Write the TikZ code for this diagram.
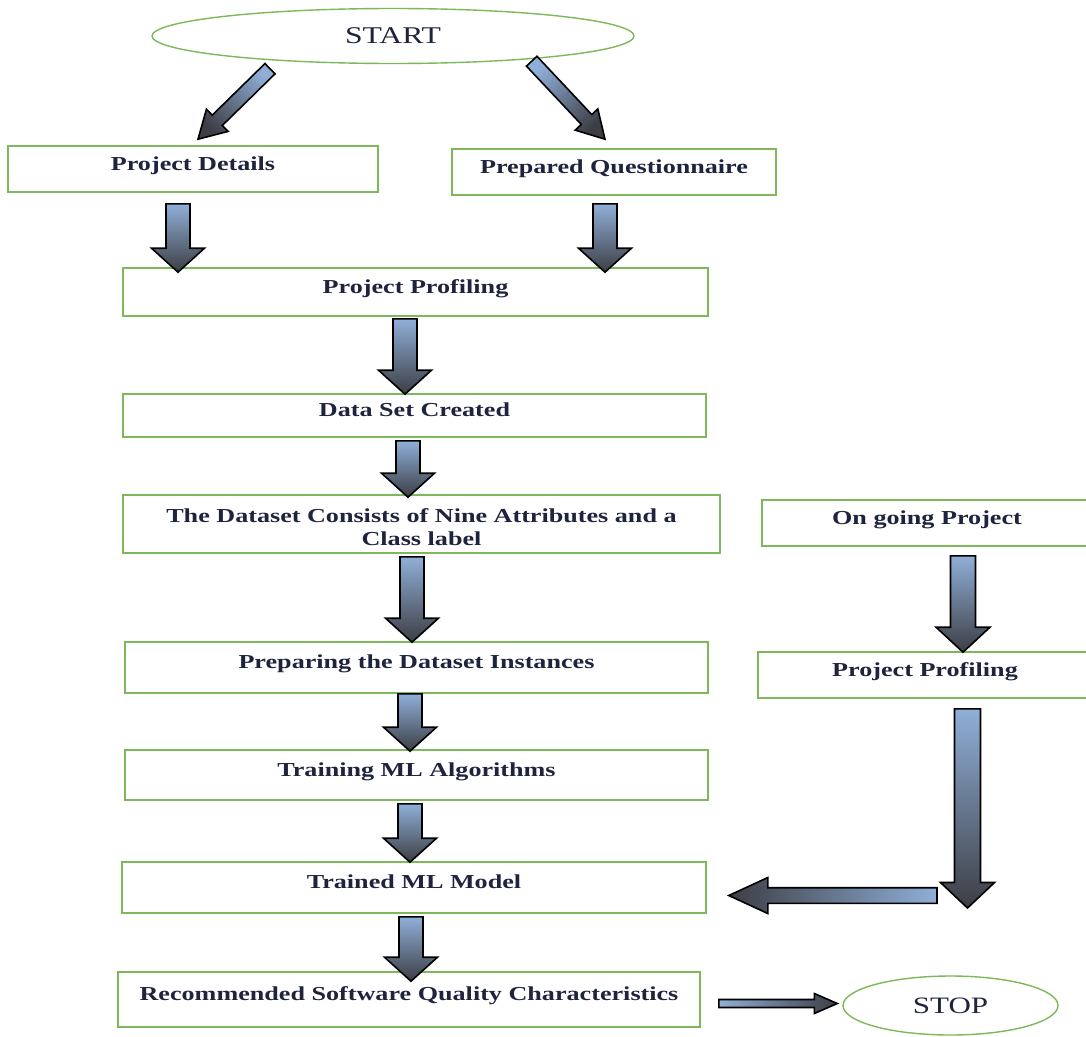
\documentclass[tikz,border=0pt]{standalone}
\usepackage{fontspec}
\setmainfont[FakeStretch=1.32]{Liberation Serif}
\usetikzlibrary{shapes.geometric,calc}

\definecolor{boxgreen}{RGB}{125,185,90}
\definecolor{txt}{RGB}{30,36,62}
\definecolor{arlight}{RGB}{144,175,216}
\definecolor{ardark}{RGB}{60,62,68}

\tikzset{
  box/.style={draw=boxgreen, line width=1.6pt, rectangle, inner sep=0pt,
    text=txt, font=\bfseries\fontsize{19.8}{23}\selectfont,
    text height=0.7em, text depth=0.5em},
  twoline/.style={draw=boxgreen, line width=1.6pt, rectangle, inner sep=0pt,
    text=txt, font=\bfseries\fontsize{19.8}{23.5}\selectfont, align=center},
  terminal/.style={draw=boxgreen, line width=1.4pt, ellipse, inner sep=0pt,
    text=txt, font=\fontsize{24}{28}\selectfont},
  arrowbody/.style={draw=black, line width=1.6pt, line join=miter},
  downshade/.style={top color=arlight, bottom color=ardark},
}

% block arrow: [shading], tail, tip, shaft half width, head half width, head length
\newcommand\blockarrow[6][]{%
  \coordinate (ba-n) at ($(#3)!#6!(#2)$);
  \shade[arrowbody,#1]
    ($(#2)!#4!90:(#3)$) -- ($(ba-n)!#4!90:(#3)$) -- ($(ba-n)!#5!90:(#3)$) -- (#3)
    -- ($(ba-n)!#5!-90:(#3)$) -- ($(ba-n)!#4!-90:(#3)$) -- ($(#2)!#4!-90:(#3)$) -- cycle;}

\begin{document}
\begin{tikzpicture}[x=1pt, y={(0pt,-1pt)}]
\useasboundingbox (0,0) rectangle (1086,1036);
\clip (0,0) rectangle (1086,1036);
\fill[white] (0,0) rectangle (1086,1036);

% terminals
\node[terminal, minimum width=482pt, minimum height=55pt] (start) at (393,36) {START};
\node[terminal, minimum width=215pt, minimum height=59pt, font=\fontsize{23.5}{28}\selectfont] (stop) at (950.5,1005.5) {STOP};

% process boxes
\node[box, minimum width=370pt, minimum height=46pt] (pd)   at (193,169)     {Project Details};
\node[box, minimum width=324pt, minimum height=46pt] (pq)   at (614,172)     {Prepared Questionnaire};
\node[box, minimum width=585pt, minimum height=48pt] (pp)   at (415.5,292)   {Project Profiling};
\node[box, minimum width=583pt, minimum height=43pt] (dsc)  at (414.5,415.5) {Data Set Created};
\node[twoline, minimum width=597pt, minimum height=58pt] (dca) at (421.5,524) {\rule{0pt}{20pt}The Dataset Consists of Nine Attributes and a\\Class label};
\node[box, minimum width=330pt, minimum height=46pt] (ogp)  at (927,523)     {On going Project};
\node[box, minimum width=583pt, minimum height=51pt] (prep) at (416.5,667.5) {Preparing the Dataset Instances};
\node[box, minimum width=334pt, minimum height=46pt] (ppr)  at (925,675)     {Project Profiling};
\node[box, minimum width=583pt, minimum height=50pt] (tml)  at (416.5,775)   {Training ML Algorithms};
\node[box, minimum width=584pt, minimum height=51pt] (trm)  at (414,887.5)   {Trained ML Model};
\node[box, minimum width=582pt, minimum height=55pt] (rsq)  at (409,999.5)   {Recommended Software Quality Characteristics};

% arrow end points
\coordinate (a1t) at ($(start.south)+(-123,4.5)$);
\coordinate (a1h) at ($(pd.north)+(5,-6)$);
\coordinate (a2t) at ($(start.south)+(138.7,-3)$);
\coordinate (a2h) at ($(pq.north)+(-9,-9)$);
\coordinate (a3t) at ($(pd.south)+(-15,11)$);
\coordinate (a3h) at ($(pp.north)+(-237.5,5)$);
\coordinate (a4t) at ($(pq.south)+(-9,8)$);
\coordinate (a4h) at ($(pp.north)+(189.5,5)$);
\coordinate (a5t) at ($(pp.south)+(-10.5,2)$);
\coordinate (a5h) at ($(dsc.north)+(-9.5,1)$);
\coordinate (a6t) at ($(dsc.south)+(-6.5,3)$);
\coordinate (a6h) at ($(dca.north)+(-13.5,3)$);
\coordinate (a7t) at ($(dca.south)+(-9.5,3)$);
\coordinate (a7h) at ($(prep.north)+(-4.5,1)$);
\coordinate (a8t) at ($(prep.south)+(-6.5,0)$);
\coordinate (a8h) at ($(tml.north)+(-6.5,2)$);
\coordinate (a9t) at ($(tml.south)+(-6.5,3)$);
\coordinate (a9h) at ($(trm.north)+(-4,1)$);
\coordinate (a10t) at ($(trm.south)+(-3,3)$);
\coordinate (a10h) at ($(rsq.north)+(2,10)$);
\coordinate (a11t) at ($(ogp.south)+(36,9)$);
\coordinate (a11h) at ($(ppr.north)+(38,1)$);
\coordinate (a12t) at ($(ppr.south)+(42.5,10)$);
\coordinate (bend) at (967.5,908);
\coordinate (turn) at (937,895.5);
\coordinate (a13h) at ($(trm.east)+(22,8)$);
\coordinate (a14t) at ($(rsq.east)+(18,4)$);
\coordinate (a14h) at ($(stop.west)+(-5,-2)$);

% diagonal arrows from START
\blockarrow[top color=arlight, bottom color=ardark, shading angle=-45]{a1t}{a1h}{7.2pt}{15.5pt}{27pt}
\blockarrow[top color=arlight, bottom color=ardark, shading angle=45]{a2t}{a2h}{7.2pt}{15.5pt}{27pt}

% main column
\blockarrow[downshade]{a3t}{a3h}{12pt}{26.5pt}{24pt}
\blockarrow[downshade]{a4t}{a4h}{12pt}{26.5pt}{24pt}
\blockarrow[downshade]{a5t}{a5h}{12pt}{26.5pt}{24pt}
\blockarrow[downshade]{a6t}{a6h}{12pt}{26.5pt}{24pt}
\blockarrow[downshade]{a7t}{a7h}{12pt}{26.5pt}{24pt}
\blockarrow[downshade]{a8t}{a8h}{12pt}{26.5pt}{24pt}
\blockarrow[downshade]{a9t}{a9h}{12pt}{26.5pt}{24pt}
\blockarrow[downshade]{a10t}{a10h}{12pt}{26.5pt}{24pt}

% ongoing project branch
\blockarrow[downshade]{a11t}{a11h}{12.5pt}{27pt}{25pt}
\blockarrow[downshade]{a12t}{bend}{13pt}{27pt}{25.5pt}
\blockarrow[left color=ardark, right color=arlight]{turn}{a13h}{7.8pt}{18pt}{39pt}

% to STOP
\blockarrow[left color=arlight, right color=ardark]{a14t}{a14h}{4pt}{10pt}{23pt}
\end{tikzpicture}
\end{document}
